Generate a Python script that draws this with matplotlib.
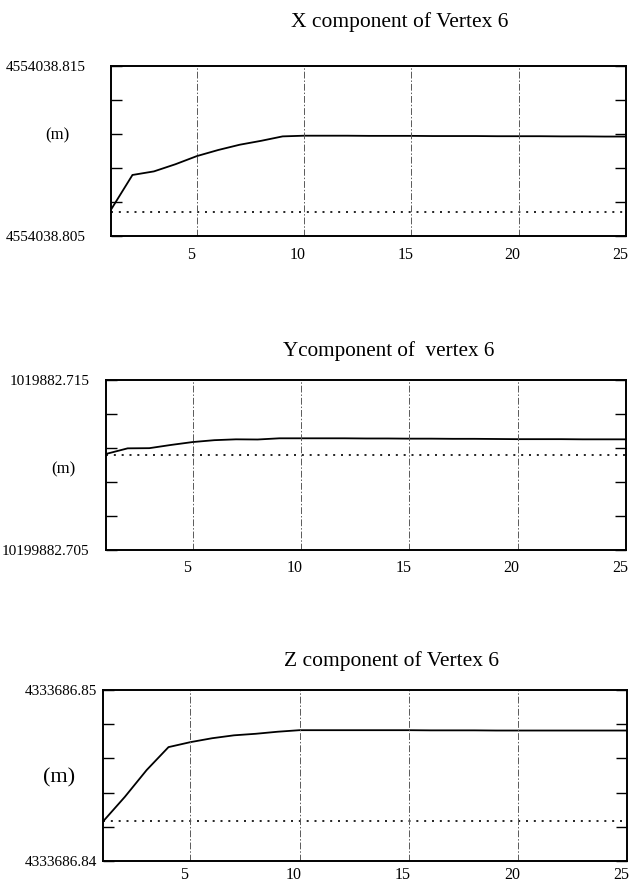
import matplotlib
matplotlib.use("Agg")
import matplotlib.pyplot as plt
import matplotlib.transforms as mtrans

plt.rcParams['font.family'] = ['Liberation Serif', 'DejaVu Serif']

# ---------------- data ----------------
iterations = list(range(1, 26))

x_solid = [4554038.80655, 4554038.80859, 4554038.80880, 4554038.80922, 4554038.80970,
           4554038.81006, 4554038.81037, 4554038.81060, 4554038.81086, 4554038.81090,
           4554038.81090, 4554038.81090, 4554038.81089, 4554038.81089, 4554038.81089,
           4554038.81088, 4554038.81088, 4554038.81088, 4554038.81087, 4554038.81087,
           4554038.81087, 4554038.81086, 4554038.81086, 4554038.81085, 4554038.81085]
x_dotted = [4554038.80640] * 25

y_solid = [1019882.71065, 1019882.71098, 1019882.71099, 1019882.71118, 1019882.71135,
           1019882.71146, 1019882.71151, 1019882.71150, 1019882.71157, 1019882.71157,
           1019882.71157, 1019882.71157, 1019882.71156, 1019882.71156, 1019882.71155,
           1019882.71155, 1019882.71154, 1019882.71154, 1019882.71153, 1019882.71152,
           1019882.71152, 1019882.71152, 1019882.71151, 1019882.71151, 1019882.71151]
y_dotted = [1019882.71061] * 25

z_solid = [4333686.84231, 4333686.84375, 4333686.84532, 4333686.84666, 4333686.84695,
           4333686.84718, 4333686.84735, 4333686.84744, 4333686.84756, 4333686.84765,
           4333686.84765, 4333686.84765, 4333686.84765, 4333686.84765, 4333686.84765,
           4333686.84764, 4333686.84764, 4333686.84764, 4333686.84763, 4333686.84763,
           4333686.84763, 4333686.84763, 4333686.84763, 4333686.84763, 4333686.84763]
z_dotted = [4333686.84231] * 25

titles = ["X component of Vertex 6", "Ycomponent of  vertex 6", "Z component of Vertex 6"]
y_limits = [(4554038.805, 4554038.815), (1019882.705, 1019882.715), (4333686.84, 4333686.85)]
y_end_labels = [("4554038.805", "4554038.815"), ("10199882.705", "1019882.715"),
                ("4333686.84", "4333686.85")]
x_ticks = [5, 10, 15, 20, 25]
x_tick_labels = ["5", "10", "15", "20", "25"]
unit_label = "(m)"

# ---------------- layout ----------------
W, H = 636, 888
fig = plt.figure(figsize=(W / 100, H / 100), dpi=100)

# axes boxes in pixels: left, right, top, bottom
boxes = [(111, 626, 66, 236), (106, 626, 380, 550), (103, 627, 690, 861)]
title_pos = [(400, 22), (389, 351), (392, 661)]
unit_pos = [(57, 135, 12), (63, 469, 12), (59, 778, 16)]
label_pads = [18, 12, 4]
xlabel_pads = [8, 7, 4]
title_sizes = [15.5, 15.2, 15.5]

series = [(x_solid, x_dotted), (y_solid, y_dotted), (z_solid, z_dotted)]

for i, (l, r, t, b) in enumerate(boxes):
    ax = fig.add_axes([l / W, 1 - b / H, (r - l) / W, (b - t) / H])
    solid, dotted = series[i]
    ax.plot(iterations, solid, color='black', lw=1.3, solid_joinstyle='miter')
    ax.plot(iterations, dotted, color='black', lw=1.2, linestyle=(0, (1.2, 3.5)))
    ax.set_xlim(1, 25)
    lo, hi = y_limits[i]
    ax.set_ylim(lo, hi)

    # vertical dash-dot grid
    for xv in [5, 10, 15, 20]:
        ax.axvline(xv, color='0.35', lw=0.7, linestyle=(0, (7, 2, 1.5, 2)))

    # y ticks: inward marks on both sides, labels only at ends
    step = (hi - lo) / 5
    yt = [lo + k * step for k in range(6)]
    ax.set_yticks(yt)
    ax.set_yticklabels([y_end_labels[i][0], "", "", "", "", y_end_labels[i][1]])
    ax.tick_params(axis='y', which='both', direction='in', length=8, width=1.0,
                   left=True, right=True, labelsize=11, pad=label_pads[i])

    ax.set_xticks(x_ticks)
    ax.set_xticklabels(x_tick_labels)
    ax.tick_params(axis='x', length=0, labelsize=11.5, pad=xlabel_pads[i])
    off = mtrans.ScaledTranslation(-6 / 100, 0, fig.dpi_scale_trans)
    for lab in ax.get_xticklabels():
        lab.set_transform(lab.get_transform() + off)

    for s in ax.spines.values():
        s.set_linewidth(1.4)
        s.set_color('black')

    tx, ty = title_pos[i]
    fig.text(tx / W, 1 - ty / H, titles[i], ha='center', va='center',
             fontsize=title_sizes[i])
    ux, uy, us = unit_pos[i]
    fig.text(ux / W, 1 - uy / H, unit_label, ha='center', va='center', fontsize=us)

fig.savefig("out.png", dpi=100)
